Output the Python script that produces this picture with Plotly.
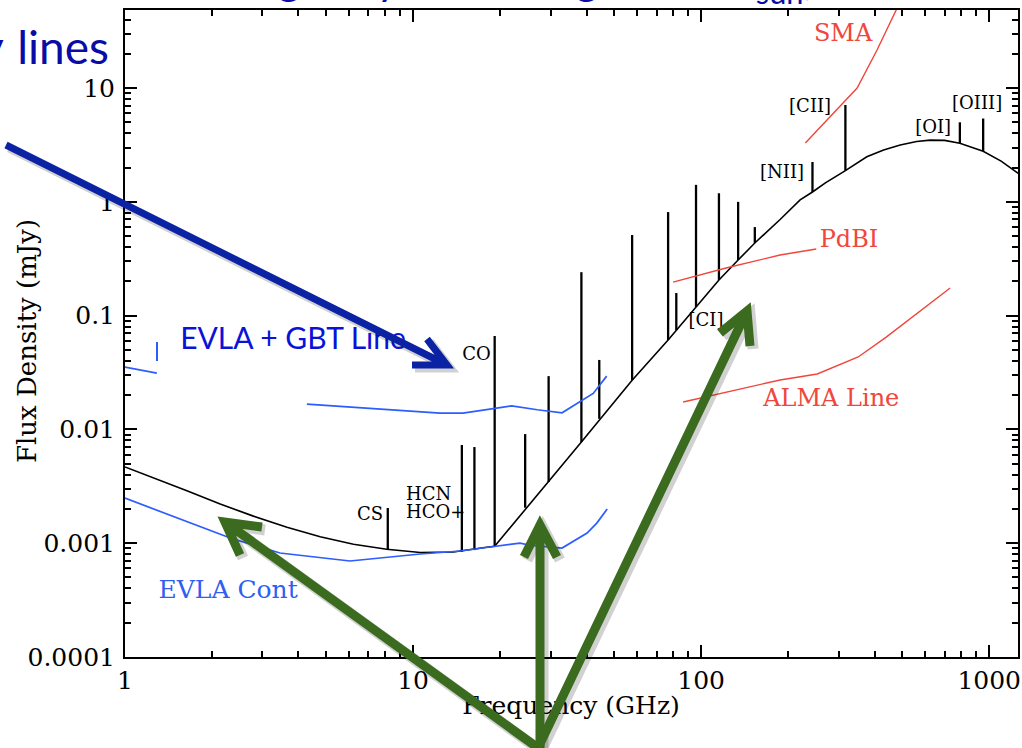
import plotly.graph_objects as go

# ---------------- data (GHz, mJy) ----------------
sed_freq = [1, 1.25, 1.64, 2.14, 2.79, 3.65, 4.76, 6.21, 8.1, 10.6, 13.8, 18.0, 19.2,
            38.4, 57.6, 76.8, 96, 115.3, 134.4, 153.6, 188, 220.6, 243.5, 270, 316.8,
            376, 430, 491, 560, 624, 700, 791, 953, 1100, 1261]
sed_flux = [0.00468, 0.00379, 0.00289, 0.00221, 0.00173, 0.00138, 0.00114, 0.000978,
            0.000884, 0.000828, 0.000837, 0.00092, 0.00094, 0.00775, 0.0271, 0.0611,
            0.119, 0.206, 0.308, 0.435, 0.70, 1.04, 1.22, 1.47, 1.88, 2.49, 2.85, 3.16,
            3.39, 3.49, 3.47, 3.27, 2.78, 2.28, 1.78]

line_freq = [8.17, 14.77, 16.33, 19.2, 24.5, 29.55, 38.4, 44.3, 57.6, 76.8, 82.0, 96.0,
             115.3, 134.4, 153.6, 243.5, 316.8, 791, 953]
line_base = [0.00088, 0.00084, 0.00087, 0.00094, 0.00205, 0.00345, 0.00775, 0.0124, 0.0271,
             0.0611, 0.0745, 0.119, 0.206, 0.308, 0.435, 1.22, 1.88, 3.27, 2.78]
line_peak = [0.00204, 0.0073, 0.0070, 0.0662, 0.0091, 0.0294, 0.241, 0.0408, 0.511, 0.813,
             0.158, 1.41, 1.19, 1.0, 0.60, 2.24, 7.1, 5.0, 5.4]

evla_cont_freq = [1, 2.32, 3.45, 6.04, 10.6, 14.6, 18.5, 23.5, 25.5, 32.9, 40.2, 43.5, 47.2]
evla_cont_flux = [0.00249, 0.00111, 0.00082, 0.000698, 0.000804, 0.000854, 0.000926, 0.00100,
                  0.00096, 0.000907, 0.00123, 0.00151, 0.0020]

evla_line_freq = [1, 1.29, None, 4.28, 7.67, 12.4, 14.9, 22.0, 27.0, 32.9, 42.2, 47.0]
evla_line_flux = [0.0353, 0.0313, None, 0.0167, 0.0151, 0.0139, 0.0139, 0.0161, 0.0149,
                  0.0140, 0.0207, 0.0294]

pdbi_freq = [79.9, 122, 188, 251]
pdbi_flux = [0.197, 0.262, 0.341, 0.385]
alma_freq = [86.6, 188, 253, 351, 439, 732]
alma_flux = [0.0174, 0.0272, 0.0307, 0.0433, 0.0648, 0.175]
sma_freq = [230, 280, 348, 408, 479]
sma_flux = [3.29, 5.6, 10.0, 21.6, 50.5]

# labels of the plot (positions in data units)
mol_labels = ["CO", "CS", "HCN", "HCO+", "[CI]", "[NII]", "[CII]", "[OI]", "[OIII]"]
mol_lab_x = [16.6, 7.09, 9.45, 9.45, 104, 191, 239, 639, 908]
mol_lab_y = [0.045, 0.00177, 0.0026, 0.00184, 0.0897, 1.79, 6.8, 4.37, 7.2]
mol_lab_pos = ["middle center", "middle center", "middle right", "middle right",
               "middle center", "middle center", "middle center", "middle center",
               "middle center"]

inst_labels = ["SMA", "PdBI", "ALMA Line"]
inst_lab_x = [311, 326, 283]
inst_lab_y = [29.2, 0.453, 0.0181]

BLACK = "#000000"
BLUE = "#2d5cff"
RED = "#f0463c"
GREEN = "#3a6b1e"
NAVY = "#0b0ba6"
SERIF = "DejaVu Serif"

# ---------------- figure ----------------
W, H = 1022, 748
L, R, T, B = 125, 1018, 10, 657   # plot frame in page pixels


def px(X):
    return X / W


def py(Y):
    return 1 - Y / H


fig = go.Figure()

lx, ly = [], []
for f, b, p in zip(line_freq, line_base, line_peak):
    lx += [f, f, None]
    ly += [b, p, None]
fig.add_trace(go.Scatter(x=lx, y=ly, mode="lines", line=dict(color=BLACK, width=2.3)))
fig.add_trace(go.Scatter(x=sed_freq, y=sed_flux, mode="lines", line=dict(color=BLACK, width=1.6)))
fig.add_trace(go.Scatter(x=evla_cont_freq, y=evla_cont_flux, mode="lines",
                         line=dict(color=BLUE, width=1.7)))
fig.add_trace(go.Scatter(x=evla_line_freq, y=evla_line_flux, mode="lines", connectgaps=False,
                         line=dict(color=BLUE, width=1.7)))
for fx, fy in [(pdbi_freq, pdbi_flux), (alma_freq, alma_flux), (sma_freq, sma_flux)]:
    fig.add_trace(go.Scatter(x=fx, y=fy, mode="lines", line=dict(color=RED, width=1.4)))

fig.add_trace(go.Scatter(x=mol_lab_x, y=mol_lab_y, mode="text", text=mol_labels,
                         textposition=mol_lab_pos, cliponaxis=False,
                         textfont=dict(family=SERIF, size=18, color=BLACK)))
fig.add_trace(go.Scatter(x=inst_lab_x, y=inst_lab_y, mode="text", text=inst_labels,
                         textposition="middle center", cliponaxis=False,
                         textfont=dict(family=SERIF, size=24, color=RED)))
fig.add_trace(go.Scatter(x=[2.28], y=[0.000373], mode="text", text=["EVLA Cont"],
                         textposition="middle center", cliponaxis=False,
                         textfont=dict(family=SERIF, size=25, color="#2f5ef2")))
fig.add_trace(go.Scatter(x=[3.83], y=[0.0598], mode="text", text=["EVLA + GBT Line"],
                         textposition="middle center", cliponaxis=False,
                         textfont=dict(family="Lato", size=30, color="#0a12d8")))
# x-axis title on a full-page overlay subplot (so the slide arrows can pass over it)
fig.add_trace(go.Scatter(x=[571], y=[708], xaxis="x2", yaxis="y2", mode="text",
                         text=["Frequency (GHz)"], textposition="middle center",
                         cliponaxis=False,
                         textfont=dict(family=SERIF, size=25, color=BLACK)))

axis_common = dict(type="log", dtick=1, tick0=0, exponentformat="none",
                   ticks="inside", ticklen=12, tickwidth=2, tickcolor=BLACK,
                   showline=True, linecolor=BLACK, linewidth=2, mirror="ticks",
                   showgrid=False, zeroline=False,
                   minor=dict(ticks="inside", ticklen=6, tickwidth=1.5, tickcolor=BLACK,
                              dtick="D1", showgrid=False),
                   tickfont=dict(family=SERIF, size=25, color=BLACK))

fig.update_layout(
    width=W, height=H,
    margin=dict(l=0, r=0, t=0, b=0, autoexpand=False),
    paper_bgcolor="white", plot_bgcolor="rgba(0,0,0,0)", showlegend=False,
    xaxis=dict(range=[0, 3.1], domain=[L / W, R / W], anchor="y", **axis_common),
    yaxis=dict(range=[-4, 1.686], domain=[1 - B / H, 1 - T / H], anchor="x",
               ticklabelstandoff=3, **axis_common),
    xaxis2=dict(range=[0, W], domain=[0, 1], anchor="y2", visible=False, fixedrange=True),
    yaxis2=dict(range=[H, 0], domain=[0, 1], anchor="x2", visible=False, fixedrange=True),
)

# axis title (y)
fig.add_annotation(xref="paper", yref="paper", x=px(27), y=py(341), text="Flux Density (mJy)",
                   textangle=-90, showarrow=False, xanchor="center", yanchor="middle",
                   font=dict(family=SERIF, size=26, color=BLACK))

# slide overlay texts
fig.add_annotation(xref="paper", yref="paper", x=px(111), y=py(46),
                   text="Many \u200alines",
                   showarrow=False, xanchor="right", yanchor="middle",
                   font=dict(family="Lato", size=46, color=NAVY))
fig.add_annotation(xref="paper", yref="paper", x=px(88), y=py(13),
                   text="Starburst galaxy at z=5 log ~10<sup>12</sup> L<sub>sun</sub>)",
                   showarrow=False, xanchor="left", yanchor="bottom",
                   font=dict(family="Lato", size=44, color=NAVY))

# blue fragment of an old label
fig.add_shape(type="line", xref="paper", yref="paper", x0=px(157), x1=px(157),
              y0=py(342), y1=py(361), line=dict(color=BLUE, width=2))


def arrow(x0, y0, x1, y1, w1, w2, color, width):
    p = (f"M{px(x0)},{py(y0)} L{px(x1)},{py(y1)} "
         f"M{px(w1[0])},{py(w1[1])} L{px(x1)},{py(y1)} L{px(w2[0])},{py(w2[1])}")
    sp = (f"M{px(x0+3)},{py(y0+3)} L{px(x1+3)},{py(y1+3)} "
          f"M{px(w1[0]+3)},{py(w1[1]+3)} L{px(x1+3)},{py(y1+3)} L{px(w2[0]+3)},{py(w2[1]+3)}")
    fig.add_shape(type="path", xref="paper", yref="paper", path=sp, layer="above",
                  line=dict(color="rgba(0,0,0,0.18)", width=width + 2))
    fig.add_shape(type="path", xref="paper", yref="paper", path=p, layer="above",
                  line=dict(color=color, width=width))


arrow(6, 145, 447, 365, (412, 365), (427, 339), "#0a22a3", 7)
arrow(538, 748, 225, 522, (262, 527), (240, 555), GREEN, 9)
arrow(540, 748, 540, 525, (524, 557), (557, 557), GREEN, 9)
arrow(538, 748, 747, 311, (720, 333), (750, 346), GREEN, 9)

fig.write_html("out.html")
